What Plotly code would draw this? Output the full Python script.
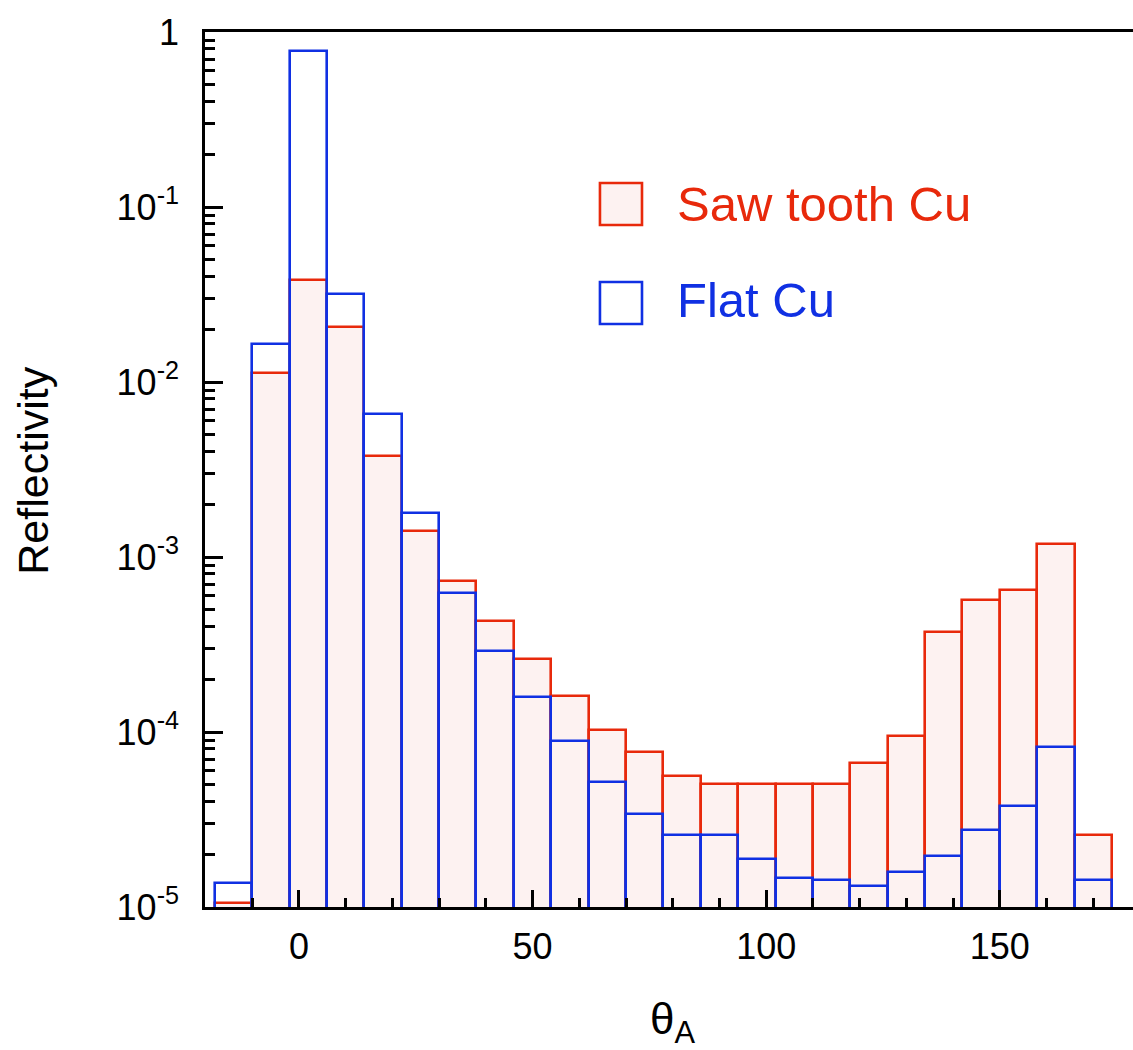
import plotly.graph_objects as go

# Bin centres (theta_A), bin width 8
theta_centers = [-14, -6, 2, 10, 18, 26, 34, 42, 50, 58, 66, 74, 82, 90, 98, 106,
                 114, 122, 130, 138, 146, 154, 162, 170]
bin_width = 8

saw_tooth = [1.05e-5, 1.12e-2, 3.85e-2, 2.05e-2, 3.79e-3, 1.41e-3, 7.27e-4, 4.29e-4,
             2.61e-4, 1.61e-4, 1.02e-4, 7.69e-5, 5.58e-5, 5.04e-5, 5.04e-5, 5.04e-5,
             5.04e-5, 6.68e-5, 9.46e-5, 3.71e-4, 5.66e-4, 6.52e-4, 1.18e-3, 2.58e-5]

flat = [1.38e-5, 1.64e-2, 7.79e-1, 3.20e-2, 6.59e-3, 1.79e-3, 6.26e-4, 2.89e-4,
        1.59e-4, 8.85e-5, 5.2e-5, 3.42e-5, 2.58e-5, 2.58e-5, 1.87e-5, 1.47e-5,
        1.42e-5, 1.32e-5, 1.58e-5, 1.96e-5, 2.77e-5, 3.80e-5, 8.18e-5, 1.42e-5]

series_names = ["Saw tooth Cu", "Flat Cu"]
y_tickvals = [1e-5, 1e-4, 1e-3, 1e-2, 1e-1, 1]
y_ticktext = ["10<sup>-5</sup>", "10<sup>-4</sup>", "10<sup>-3</sup>",
              "10<sup>-2</sup>", "10<sup>-1</sup>", "1"]
x_tickvals = [0, 50, 100, 150]

RED = "#e8290b"
BLUE = "#1030e3"
PINK = "#fdf2f1"
FONT = "Liberation Sans, Arial, Helvetica, sans-serif"

fig = go.Figure()
fig.add_trace(go.Bar(
    x=theta_centers, y=saw_tooth, width=bin_width, name=series_names[0],
    marker=dict(color=PINK, line=dict(color=RED, width=2.6)), showlegend=False))
fig.add_trace(go.Bar(
    x=theta_centers, y=flat, width=bin_width, name=series_names[1],
    marker=dict(color="rgba(0,0,0,0)", line=dict(color=BLUE, width=2.6)), showlegend=False))

fig.update_layout(
    width=1133, height=1050,
    margin=dict(l=205, r=0, t=32, b=143),
    paper_bgcolor="white", plot_bgcolor="white",
    barmode="overlay", bargap=0,
    font=dict(family=FONT, color="black", size=36),
)

fig.update_xaxes(
    range=[-20.1, 178.5], showgrid=False, zeroline=False,
    showline=True, linecolor="black", linewidth=2.5, mirror=True,
    ticks="inside", ticklen=17, tickwidth=2.5, tickcolor="black",
    tickvals=x_tickvals, tickfont=dict(size=36, family=FONT),
    ticklabelstandoff=6,
    minor=dict(ticks="inside", dtick=10, tick0=0, ticklen=9, tickwidth=2.5,
               tickcolor="black", showgrid=False),
)
fig.update_yaxes(
    type="log", range=[-5, 0], showgrid=False, zeroline=False,
    showline=True, linecolor="black", linewidth=2.5, mirror=False,
    ticks="inside", ticklen=18, tickwidth=2.5, tickcolor="black",
    tickvals=y_tickvals, ticktext=y_ticktext, tickfont=dict(size=36, family=FONT),
    ticklabelstandoff=16,
    minor=dict(ticks="inside", dtick="D1", ticklen=10, tickwidth=2.5,
               tickcolor="black", showgrid=False),
)

# Axis titles
fig.add_annotation(text="Reflectivity", xref="paper", yref="paper",
                   x=-0.185, y=0.499, textangle=-90, showarrow=False,
                   font=dict(size=43, family=FONT, color="black"),
                   xanchor="center", yanchor="middle")
fig.add_annotation(text="θ<sub>A</sub>", xref="paper", yref="paper",
                   x=0.504, y=-0.131, showarrow=False,
                   font=dict(size=44, family=FONT, color="black"),
                   xanchor="center", yanchor="middle")

# Manual legend
legend_items = [(series_names[0], RED, PINK, 0.7794, 0.8274, 0.8034),
                (series_names[1], BLUE, "white", 0.6663, 0.7143, 0.6937)]
for name, lc, fc, y0, y1, yc in legend_items:
    fig.add_shape(type="rect", xref="paper", yref="paper",
                  x0=0.4256, x1=0.4709, y0=y0, y1=y1,
                  line=dict(color=lc, width=2.6), fillcolor=fc)
    fig.add_annotation(text=name, xref="paper", yref="paper", x=0.5065, y=yc,
                       xanchor="left", yanchor="middle", showarrow=False,
                       font=dict(size=49, family=FONT, color=lc))

fig.write_html("out.html", config={"displayModeBar": False},
               post_script="document.body.style.margin='0';document.body.style.padding='0';")
